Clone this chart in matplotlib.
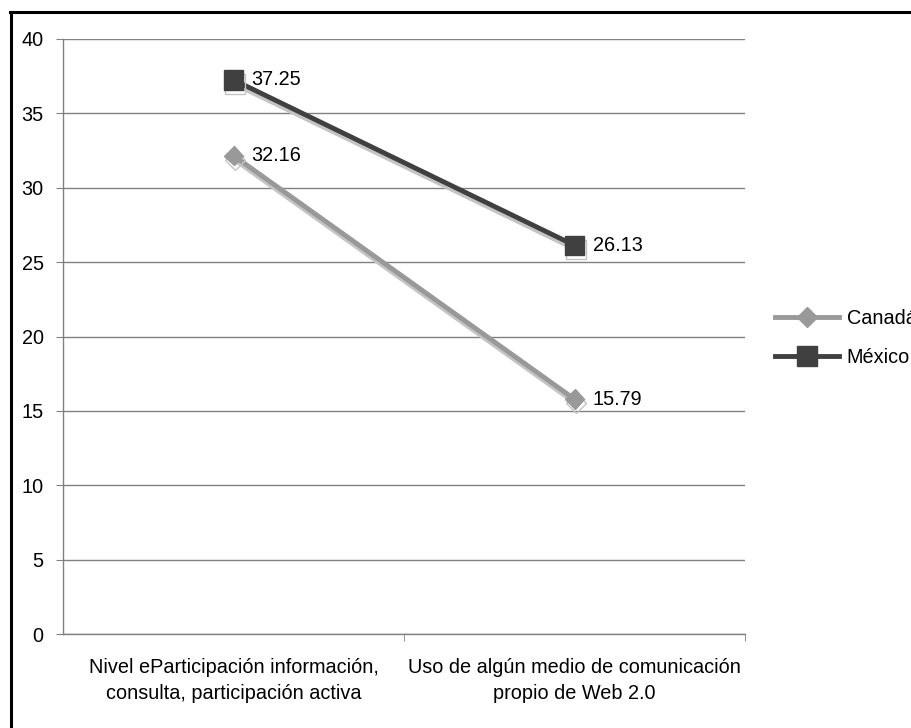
import matplotlib.pyplot as plt
import matplotlib.patheffects as pe
from matplotlib.lines import Line2D
import numpy as np

plt.rcParams['font.family'] = ['Liberation Sans', 'DejaVu Sans']

categories = ['Nivel eParticipación información,\nconsulta, participación activa',
              'Uso de algún medio de comunicación\npropio de Web 2.0']
canada = [32.16, 15.79]
mexico = [37.25, 26.13]
yticks = [0, 5, 10, 15, 20, 25, 30, 35, 40]

fs = 14.3
c_can = '#999999'
c_mex = '#404040'

fig = plt.figure(figsize=(9.11, 7.28), dpi=100)
ax = fig.add_axes([63/911, 1-634/728, (745-63)/911, (634-39)/728])

x = np.arange(len(categories))
shadow = [pe.SimpleLineShadow(offset=(1, -3), shadow_color='#c4c4c4', alpha=1), pe.Normal()]

ax.plot(x, canada, color=c_can, lw=3.5, marker='D', ms=10, zorder=3, path_effects=shadow)
ax.plot(x, mexico, color=c_mex, lw=3.5, marker='s', ms=14, zorder=4, path_effects=shadow)

for xi, v in zip(x, canada):
    ax.annotate(f'{v:.2f}', (xi, v), xytext=(13, 0), textcoords='offset points',
                va='center', ha='left', fontsize=fs)
for xi, v in zip(x, mexico):
    ax.annotate(f'{v:.2f}', (xi, v), xytext=(13, 0), textcoords='offset points',
                va='center', ha='left', fontsize=fs)

ax.set_xlim(-0.5, 1.5)
ax.set_ylim(0, 40)
ax.set_yticks(yticks)
ax.set_yticklabels([str(t) for t in yticks], fontsize=fs)
ax.set_xticks(x)
ax.set_xticklabels(categories, fontsize=fs, linespacing=1.5)
ax.set_xticks([0.5, 1.5], minor=True)
ax.tick_params(axis='x', which='major', length=0, pad=17)
ax.tick_params(axis='x', which='minor', length=5, color='#808080', direction='out')
ax.tick_params(axis='y', length=5, color='#808080', pad=9)

ax.grid(axis='y', color='#808080', lw=1)
ax.set_axisbelow(True)
for s in ['top', 'right']:
    ax.spines[s].set_visible(False)
for s in ['left', 'bottom']:
    ax.spines[s].set_color('#808080')
    ax.spines[s].set_linewidth(1)

handles = [Line2D([], [], color=c_can, lw=3.5, marker='D', ms=10),
           Line2D([], [], color=c_mex, lw=3.5, marker='s', ms=14)]
fig.legend(handles, ['Canadá', 'México'], loc='center left',
           bbox_to_anchor=(775/911, 1-338/728), frameon=False, fontsize=fs,
           borderpad=0, borderaxespad=0, handlelength=3.2, handletextpad=0.4,
           labelspacing=1.0)

# black frame (only top and left visible, rest cropped)
fig.add_artist(Line2D([11/911, 11/911], [0, 1-12/728], color='black', lw=2.2,
                      transform=fig.transFigure))
fig.add_artist(Line2D([10/911, 1], [1-12/728, 1-12/728], color='black', lw=2.2,
                      transform=fig.transFigure))

fig.savefig('out.png', dpi=100)
